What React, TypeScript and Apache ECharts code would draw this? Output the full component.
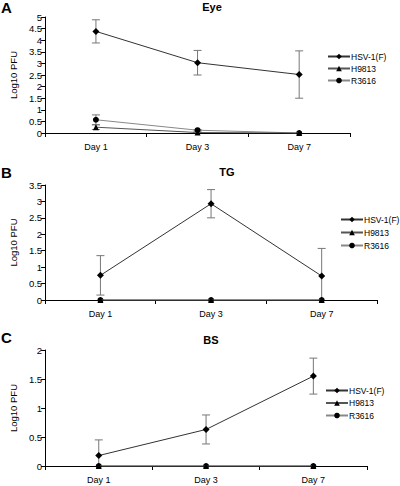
import React, { useEffect, useRef } from "react";
import * as echarts from "echarts";

const categories = ["Day 1", "Day 3", "Day 7"];
const seriesNames = ["HSV-1(F)", "H9813", "R3616"];
const symbols = ["diamond", "triangle", "circle"];

// Panel A: Eye
const eyeHSV = [4.38, 3.03, 2.52];
const eyeHSVErr = [0.5, 0.53, 1.02];
const eyeH9813 = [0.25, 0.02, 0];
const eyeH9813Err = [0.1, 0.02, 0];
const eyeR3616 = [0.57, 0.12, 0];
const eyeR3616Err = [0.21, 0.03, 0];

// Panel B: TG
const tgHSV = [0.75, 2.93, 0.73];
const tgHSVErr = [0.6, 0.43, 0.84];
const tgH9813 = [0, 0, 0];
const tgR3616 = [0, 0, 0];

// Panel C: BS
const bsHSV = [0.18, 0.63, 1.55];
const bsHSVErr = [0.27, 0.25, 0.31];
const bsH9813 = [0, 0, 0];
const bsR3616 = [0, 0, 0];

const titles = ["Eye", "TG", "BS"];
const letters = ["A", "B", "C"];
const yMax = [5, 3.5, 2];

const FONT = "Liberation Sans, Arial, Helvetica, sans-serif";

const lineColors = ["#333333", "#555555", "#888888"];

export default function App() {
  const ref = useRef<HTMLDivElement>(null);
  useEffect(() => {
    document.body.style.margin = "0";
    const chart = echarts.init(ref.current!, null, { renderer: "svg" });

    const grids = [
      { left: 44, top: 17, width: 306, height: 116 },
      { left: 37, top: 185, width: 340, height: 115 },
      { left: 37, top: 350, width: 330, height: 116 },
    ];
    const legendPos = [
      { left: 327, top: 52, gap: 3 },
      { left: 340, top: 215, gap: 4 },
      { left: 325, top: 386, gap: 3.5 },
    ];
    const nameGaps = [21, 24, 21];
    const titleOffsets = [
      [15, 0],
      [20, -3],
      [9, 0],
    ];

    const panels = [
      { vals: [eyeHSV, eyeH9813, eyeR3616], errs: [eyeHSVErr, eyeH9813Err, eyeR3616Err] },
      { vals: [tgHSV, tgH9813, tgR3616], errs: [tgHSVErr, null, null] },
      { vals: [bsHSV, bsH9813, bsR3616], errs: [bsHSVErr, null, null] },
    ];

    const xAxis: any[] = [];
    const yAxis: any[] = [];
    const series: any[] = [];
    const legend: any[] = [];
    const graphic: any[] = [];

    panels.forEach((p, gi) => {
      xAxis.push({
        type: "category",
        gridIndex: gi,
        data: categories,
        boundaryGap: true,
        axisLine: { lineStyle: { color: "#000", width: 1 } },
        axisTick: { show: true, length: 4, lineStyle: { color: "#000" } },
        axisLabel: { color: "#000", fontSize: 9, fontFamily: FONT, margin: 9 },
        splitLine: { show: false },
      });
      yAxis.push({
        type: "value",
        gridIndex: gi,
        min: 0,
        max: yMax[gi],
        interval: 0.5,
        name: "Log10 PFU",
        nameLocation: "middle",
        nameRotate: 90,
        nameGap: nameGaps[gi],
        nameTextStyle: { color: "#000", fontSize: 9.5, fontFamily: FONT },
        axisLine: { show: true, lineStyle: { color: "#000", width: 1 } },
        axisTick: { show: true, length: 4, lineStyle: { color: "#000" } },
        axisLabel: { color: "#000", fontSize: 9.5, fontFamily: FONT, margin: 3 },
        splitLine: { show: false },
      });

      // error bars
      p.vals.forEach((vals, si) => {
        const errs = p.errs[si];
        if (!errs) return;
        series.push({
          type: "custom",
          xAxisIndex: gi,
          yAxisIndex: gi,
          z: 1,
          silent: true,
          data: vals.map((v, i) => [i, v, errs[i]]),
          renderItem: (params: any, api: any) => {
            const x = api.value(0);
            const v = api.value(1);
            const e = api.value(2);
            if (!e) return null;
            const top = api.coord([x, v + e]);
            const bot = api.coord([x, Math.max(0, v - e)]);
            const style = { stroke: "#777777", lineWidth: 1 };
            const children: any[] = [
              { type: "line", shape: { x1: top[0], y1: top[1], x2: bot[0], y2: bot[1] }, style },
              { type: "line", shape: { x1: top[0] - 4, y1: top[1], x2: top[0] + 4, y2: top[1] }, style },
            ];
            if (v - e > 0) {
              children.push({ type: "line", shape: { x1: bot[0] - 4, y1: bot[1], x2: bot[0] + 4, y2: bot[1] }, style });
            }
            return { type: "group", children };
          },
        });
      });

      p.vals.forEach((vals, si) => {
        series.push({
          type: "line",
          name: seriesNames[si],
          xAxisIndex: gi,
          yAxisIndex: gi,
          data: vals,
          symbol: symbols[si],
          symbolSize: si === 0 ? 7 : 6,
          showSymbol: true,
          z: 3 + (2 - si),
          lineStyle: { color: lineColors[si], width: 1 },
          itemStyle: { color: "#000" },
        });
      });

      legend.push({
        orient: "vertical",
        left: legendPos[gi].left,
        top: legendPos[gi].top,
        padding: 0,
        itemGap: legendPos[gi].gap,
        itemWidth: 22,
        itemHeight: 7,
        selectedMode: false,
        data: seriesNames,
        textStyle: {
          color: "#000",
          fontSize: 8.5,
          fontFamily: FONT,
          padding: [0, 0, 0, -4],
          overflow: "none",
        },
      });

      const g = grids[gi];
      graphic.push({
        type: "text",
        x: g.left + g.width / 2 + titleOffsets[gi][0],
        y: g.top - 16 + titleOffsets[gi][1],
        style: {
          text: titles[gi],
          fill: "#000",
          font: `bold 11px ${FONT}`,
          textAlign: "center",
        },
      });
      graphic.push({
        type: "text",
        x: 1,
        y: gi === 0 ? 0 : gi === 1 ? 165 : 330,
        style: {
          text: letters[gi],
          fill: "#000",
          font: `bold 15px ${FONT}`,
        },
      });
    });

    chart.setOption({
      animation: false,
      backgroundColor: "#fff",
      grid: grids.map((g) => ({ ...g, containLabel: false })),
      xAxis,
      yAxis,
      series,
      legend,
      graphic,
    });
    return () => chart.dispose();
  }, []);
  return <div ref={ref} style={{ width: 400, height: 486 }} />;
}
